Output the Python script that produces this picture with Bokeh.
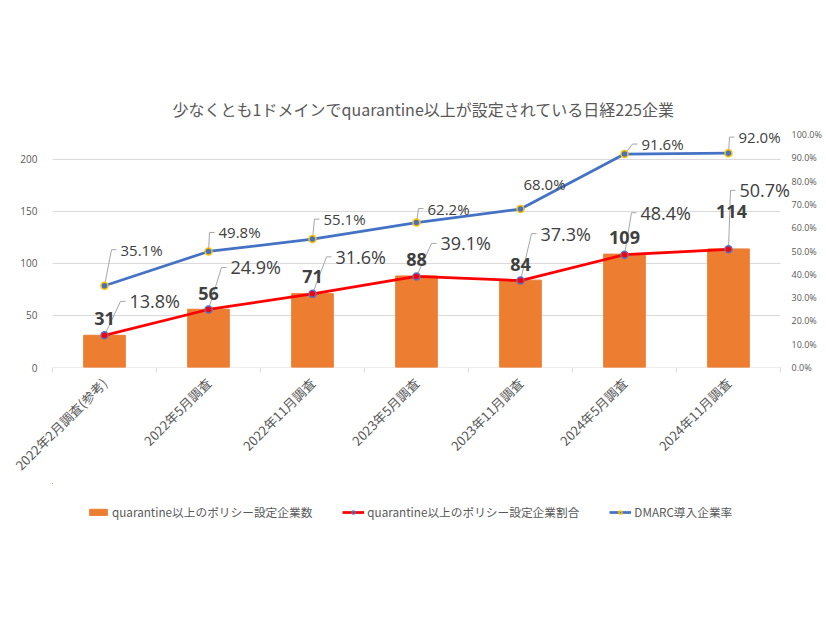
import math
from bokeh.plotting import figure
from bokeh.layouts import column
from bokeh.models import (Range1d, LinearAxis, FixedTicker, NumeralTickFormatter,
                          ColumnDataSource, LabelSet, Legend, LegendItem)
from bokeh.core.properties import value
from bokeh.embed import file_html
from bokeh.resources import INLINE

# ---------------- data ----------------
categories = ["2022年2月調査(参考)", "2022年5月調査", "2022年11月調査", "2023年5月調査",
              "2023年11月調査", "2024年5月調査", "2024年11月調査"]
counts = [31, 56, 71, 88, 84, 109, 114]
policy_rate = [0.138, 0.249, 0.316, 0.391, 0.373, 0.484, 0.507]
dmarc_rate = [0.351, 0.498, 0.551, 0.622, 0.680, 0.916, 0.920]
left_ticks = [0, 50, 100, 150, 200]
right_ticks = [0.0, 0.1, 0.2, 0.3, 0.4, 0.5, 0.6, 0.7, 0.8, 0.9, 1.0]
title_text = "少なくとも1ドメインでquarantine以上が設定されている日経225企業"
legend_labels = ["quarantine以上のポリシー設定企業数", "quarantine以上のポリシー設定企業割合", "DMARC導入企業率"]

# ---------------- label placement (screen px, style only) ----------------
count_dx = [0, 0, 0, 0, 0, 0, 3]
count_dy = [17, 16, 17, 16, 16, 17, 37]
policy_dx = [25, 22, 23, 24, 20, 16, 11]
policy_dy = [34, 42, 37, 33, 47, 42, 59]
dmarc_dx = [16, 10, 11, 11, 3, 17, 10]
dmarc_dy = [36, 19, 20, 14, 25, 10, 16]
dmarc_leader = [True, True, True, True, False, True, True]

PLOT_W, PLOT_H = 728, 233      # visible plot area (axes extents)
EXT_R, EXT_T = 14, 14          # extra frame room so labels are not clipped
N = len(categories)
CAT_W = PLOT_W / N
CNT_FULL, PCT_FULL = 224, 1.0  # values at the top of the visible plot area
CNT_MAX = CNT_FULL * (PLOT_H + EXT_T) / PLOT_H
PCT_MAX = PCT_FULL * (PLOT_H + EXT_T) / PLOT_H
xs = [i + 0.5 for i in range(N)]

def px_x(d):
    return d / CAT_W

def px_pct(d):
    return d / PLOT_H * PCT_FULL

def px_cnt(d):
    return d / PLOT_H * CNT_FULL

GRAY_TXT = "#595959"
DARK_TXT = "#404040"
GRID = "#d9d9d9"
JP = "Noto Sans CJK JP"
NUM = "Open Sans"
ORANGE, RED, BLUE = "#ED7D31", "#FF0000", "#4472C4"
RED_EDGE, BLUE_EDGE = "#5B6FC4", "#FFC000"

p = figure(frame_width=PLOT_W + EXT_R, frame_height=PLOT_H + EXT_T,
           min_border_left=52, min_border_right=24, min_border_top=120, min_border_bottom=0,
           x_range=Range1d(0, N + px_x(EXT_R)), y_range=Range1d(0, CNT_MAX),
           output_backend="svg", toolbar_location=None)
p.extra_y_ranges = {"pct": Range1d(0, PCT_MAX)}
p.outline_line_color = None
p.background_fill_color = "white"
p.border_fill_color = "white"

# title
p.title.text = title_text
p.title.align = "center"
p.title.text_font = JP
p.title.text_font_size = "16px"
p.title.text_font_style = "normal"
p.title.text_color = GRAY_TXT
p.title.standoff = 0

# grid (drawn across the visible plot area only)
p.xgrid.visible = False
p.ygrid.visible = False
p.segment(x0=[0] * len(left_ticks), x1=[N] * len(left_ticks), y0=left_ticks, y1=left_ticks,
          line_color=GRID, line_width=1)

# x axis
xa = p.xaxis[0]
xa.ticker = FixedTicker(ticks=xs, minor_ticks=list(range(N + 1)))
xa.major_label_overrides = {x: c for x, c in zip(xs, categories)}
xa.major_label_orientation = math.pi / 4
xa.major_label_text_font = JP
xa.major_label_text_font_size = "13px"
xa.major_label_text_color = GRAY_TXT
xa.major_tick_line_color = None
xa.major_tick_out = 0
xa.major_tick_in = 0
xa.minor_tick_line_color = GRID
xa.minor_tick_out = 5
xa.minor_tick_in = 0
xa.axis_line_color = None
xa.major_label_standoff = 8

# left axis
ya = p.yaxis[0]
ya.ticker = FixedTicker(ticks=left_ticks)
ya.axis_line_color = None
ya.major_tick_line_color = None
ya.minor_tick_line_color = None
ya.major_label_text_font = NUM
ya.major_label_text_font_size = "10px"
ya.major_label_text_color = GRAY_TXT
ya.major_label_standoff = 9

# right axis
ra = LinearAxis(y_range_name="pct", ticker=FixedTicker(ticks=right_ticks),
                formatter=NumeralTickFormatter(format="0.0%"))
ra.axis_line_color = None
ra.major_tick_line_color = None
ra.minor_tick_line_color = None
ra.major_tick_out = 0
ra.major_tick_in = 0
ra.major_label_text_font = NUM
ra.major_label_text_font_size = "9px"
ra.major_label_text_color = GRAY_TXT
ra.major_label_standoff = -3
p.add_layout(ra, "right")

# bars
p.vbar(x=xs, top=counts, width=0.4, fill_color=ORANGE, line_color=ORANGE)

# leader lines
lead_xs, lead_ys = [], []
for i in range(N):
    x0 = xs[i]
    y0 = policy_rate[i]
    ly = y0 + px_pct(policy_dy[i])
    lead_xs.append([x0, x0 + px_x(max(policy_dx[i] - 9, 1)), x0 + px_x(policy_dx[i] - 4)])
    lead_ys.append([y0, ly, ly])
    if dmarc_leader[i]:
        y0 = dmarc_rate[i]
        ly = y0 + px_pct(dmarc_dy[i])
        lead_xs.append([x0, x0 + px_x(max(dmarc_dx[i] - 9, 1)), x0 + px_x(dmarc_dx[i] - 4)])
        lead_ys.append([y0, ly, ly])
p.multi_line(xs=lead_xs, ys=lead_ys, line_color="#a6a6a6", line_width=1, y_range_name="pct")

# lines
p.line(xs, policy_rate, line_color=RED, line_width=2.75, y_range_name="pct")
p.scatter(xs, policy_rate, size=7, fill_color=RED, line_color=RED_EDGE,
          line_width=1.5, y_range_name="pct")
p.line(xs, dmarc_rate, line_color=BLUE, line_width=2.75, y_range_name="pct")
p.scatter(xs, dmarc_rate, size=7, fill_color=BLUE, line_color=BLUE_EDGE,
          line_width=1.5, y_range_name="pct")

# labels
cnt_src = ColumnDataSource(dict(
    x=[xs[i] + px_x(count_dx[i]) for i in range(N)],
    y=[counts[i] + px_cnt(count_dy[i]) for i in range(N)],
    t=[str(v) for v in counts]))
p.add_layout(LabelSet(x="x", y="y", text="t", source=cnt_src, text_align="center",
                      text_baseline="middle", text_font=value(NUM), text_font_size="18px",
                      text_font_style="bold", text_color=DARK_TXT))

pol_src = ColumnDataSource(dict(
    x=[xs[i] + px_x(policy_dx[i]) for i in range(N)],
    y=[policy_rate[i] + px_pct(policy_dy[i]) for i in range(N)],
    t=["{:.1f}%".format(v * 100) for v in policy_rate]))
p.add_layout(LabelSet(x="x", y="y", text="t", source=pol_src, y_range_name="pct",
                      text_align="left", text_baseline="middle", text_font=value(NUM),
                      text_font_size="18px", text_color=DARK_TXT))

dm_src = ColumnDataSource(dict(
    x=[xs[i] + px_x(dmarc_dx[i]) for i in range(N)],
    y=[dmarc_rate[i] + px_pct(dmarc_dy[i]) for i in range(N)],
    t=["{:.1f}%".format(v * 100) for v in dmarc_rate]))
p.add_layout(LabelSet(x="x", y="y", text="t", source=dm_src, y_range_name="pct",
                      text_align="left", text_baseline="middle", text_font=value(NUM),
                      text_font_size="15px", text_color=DARK_TXT))

# ---------------- legend strip (same series, kept out of view; only the legend shows) ----------------
pl = figure(width=818, height=56, min_border=0, x_range=Range1d(1000, 1001),
            y_range=Range1d(-2000, -1000),
            x_axis_location=None, y_axis_location=None,
            output_backend="svg", toolbar_location=None)
pl.grid.visible = False
pl.outline_line_color = None
pl.border_fill_color = "white"
lg_bar = pl.vbar(x=xs, top=counts, width=0.4, fill_color=ORANGE, line_color=ORANGE)
lg_rl = pl.line(xs, policy_rate, line_color=RED, line_width=2.75)
lg_rp = pl.scatter(xs, policy_rate, size=7, fill_color=RED, line_color=RED_EDGE, line_width=1.5)
lg_bl = pl.line(xs, dmarc_rate, line_color=BLUE, line_width=2.75)
lg_bp = pl.scatter(xs, dmarc_rate, size=7, fill_color=BLUE, line_color=BLUE_EDGE, line_width=1.5)
legend = Legend(items=[
    LegendItem(label=legend_labels[0], renderers=[lg_bar]),
    LegendItem(label=legend_labels[1], renderers=[lg_rl, lg_rp]),
    LegendItem(label=legend_labels[2], renderers=[lg_bl, lg_bp]),
], orientation="horizontal", location=(35, 19), spacing=30, glyph_width=22, glyph_height=8,
    label_text_font=JP, label_text_font_size="11.7px", label_text_color=GRAY_TXT,
    label_standoff=3, border_line_color=None, background_fill_alpha=0, padding=5, margin=0)
pl.add_layout(legend)

layout = column(p, pl, spacing=0)
open("out.html", "w").write(file_html(layout, INLINE))
